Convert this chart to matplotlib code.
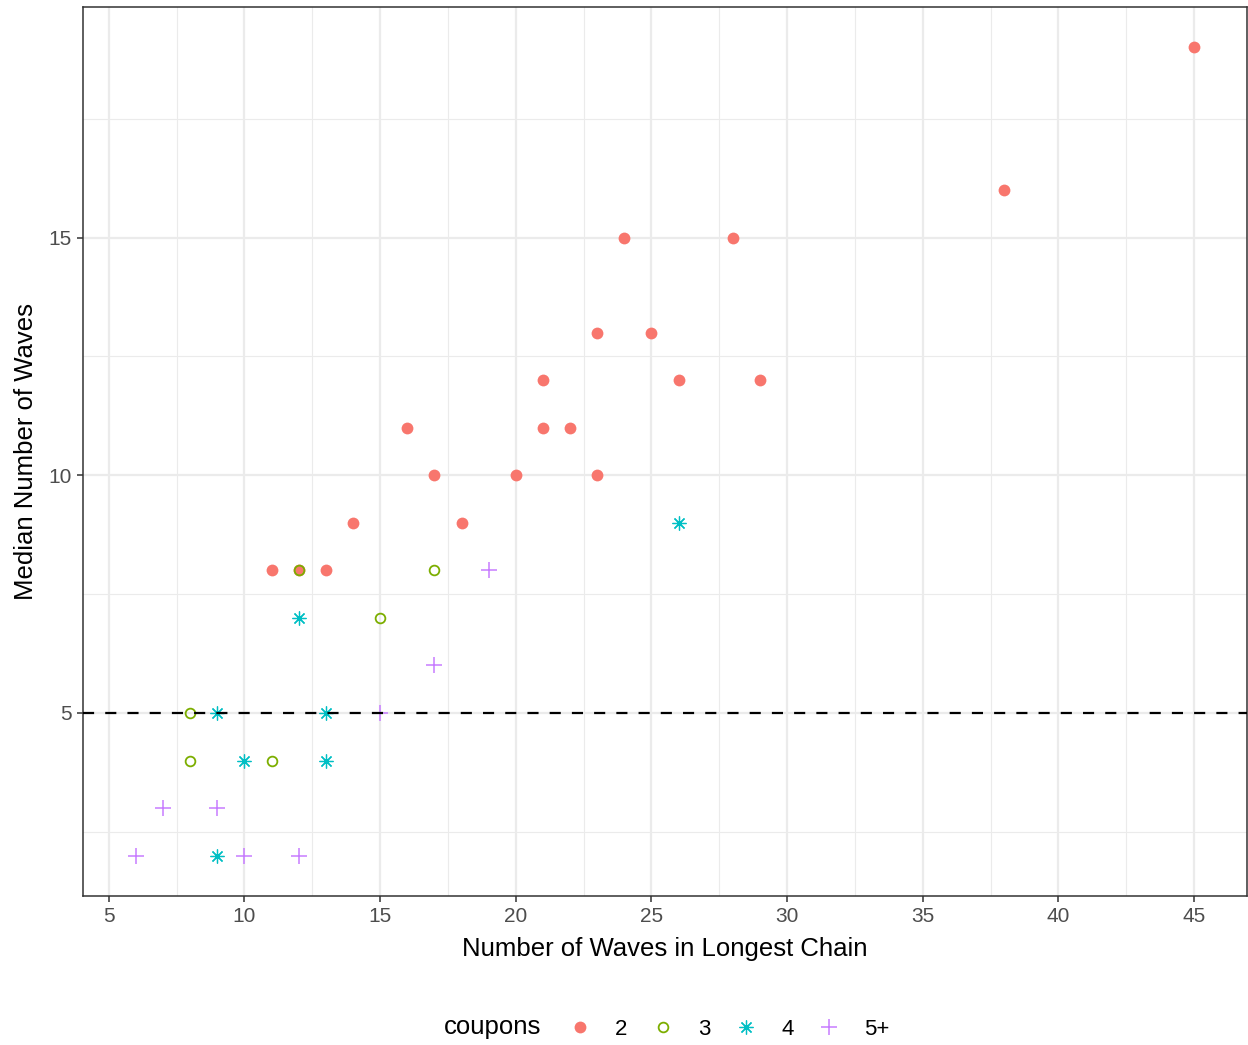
import matplotlib.pyplot as plt
from matplotlib.lines import Line2D

plt.rcParams['font.family'] = ['Liberation Sans', 'DejaVu Sans']

# coupons = 2
x_two = [11, 12, 13, 14, 16, 17, 18, 20, 21, 21, 22, 23, 23, 24, 25, 26, 28, 29, 38, 45]
y_two = [8, 8, 8, 9, 11, 10, 9, 10, 12, 11, 11, 13, 10, 15, 13, 12, 15, 12, 16, 19]
# coupons = 3
x_three = [8, 8, 11, 12, 15, 17]
y_three = [5, 4, 4, 8, 7, 8]
# coupons = 4
x_four = [9, 10, 9, 12, 13, 13, 26]
y_four = [5, 4, 2, 7, 5, 4, 9]
# coupons = 5+
x_five = [6, 7, 9, 10, 12, 15, 17, 19]
y_five = [2, 3, 3, 2, 2, 5, 6, 8]

labels = ['2', '3', '4', '5+']
colors = ['#F8766D', '#7CAE00', '#00BFC4', '#C77CFF']

W, H = 1248, 1045
fig = plt.figure(figsize=(W / 100, H / 100), dpi=100)
ax = fig.add_axes([83 / W, 149 / H, 1164 / W, 889 / H])

styles = [
    dict(marker='o', ms=8.5, mfc=colors[0], mec=colors[0], mew=0),
    dict(marker='o', ms=7, mfc='none', mec=colors[1], mew=1.3),
    dict(marker=(8, 2, 0), ms=10, mec=colors[2], mew=0.9),
    dict(marker='+', ms=11, mec=colors[3], mew=1.1),
]

series = [(x_two, y_two), (x_three, y_three), (x_four, y_four), (x_five, y_five)]
for (xs, ys), st in zip(series, styles):
    ax.plot(xs, ys, ls='none', zorder=3, **st)

ax.axhline(5, color='black', ls=(0, (5, 5)), lw=1.6, zorder=4)

ax.set_xlim(4.05, 46.95)
ax.set_ylim(1.15, 19.85)
ax.set_xticks(range(5, 46, 5))
ax.set_yticks([5, 10, 15])
ax.set_xticks([7.5 + 5 * i for i in range(8)], minor=True)
ax.set_yticks([2.5, 7.5, 12.5, 17.5], minor=True)
ax.grid(which='major', color='#EBEBEB', lw=1.6, zorder=0)
ax.grid(which='minor', color='#EBEBEB', lw=0.8, zorder=0)
ax.set_axisbelow(True)

ax.tick_params(which='major', length=4, width=1.1, color='#333333',
               labelsize=15, labelcolor='#4D4D4D', pad=4)
ax.tick_params(which='minor', length=0)
for sp in ax.spines.values():
    sp.set_color('#333333')
    sp.set_linewidth(1.1)

ax.set_xlabel('Number of Waves in Longest Chain', fontsize=18.5, labelpad=8)
ax.set_ylabel('Median Number of Waves', fontsize=18.5, labelpad=7.5)

# legend at the bottom: title on the left, keys in a row
leg_y = 1 - 1027 / H
fig.text(493 / W, leg_y, 'coupons', fontsize=18.5, ha='center', va='center')
key_x = [580, 663, 746, 829]
for kx, lab, st in zip(key_x, labels, styles):
    fig.add_artist(Line2D([kx / W], [leg_y], transform=fig.transFigure,
                          ls='none', **st))
    fig.text((kx + 35) / W, leg_y, lab, fontsize=16, ha='left',
             va='center_baseline')

fig.savefig('out.png', dpi=100)
